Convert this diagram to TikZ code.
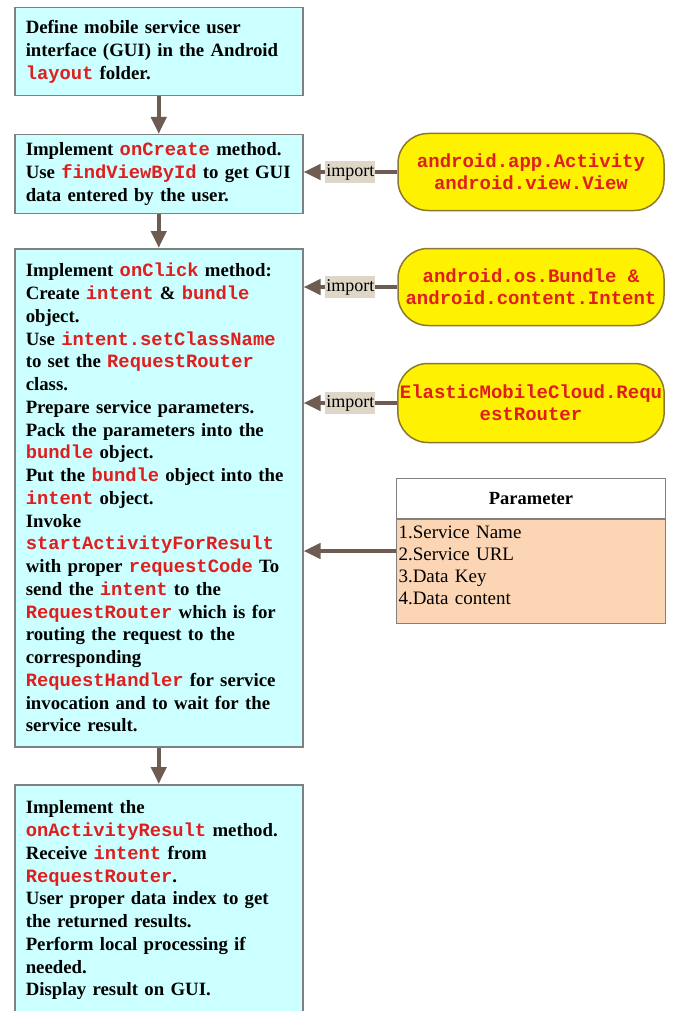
\documentclass[tikz,border=0pt]{standalone}
\usepackage{fontspec}
\setmainfont{Liberation Serif}
\setmonofont{Liberation Mono}
\usetikzlibrary{arrows.meta}
\definecolor{boxblue}{RGB}{204,255,255}
\definecolor{boxedge}{RGB}{128,128,128}
\definecolor{codered}{RGB}{225,30,30}
\definecolor{arrowbrown}{RGB}{110,92,82}
\definecolor{pkgedge}{RGB}{140,120,50}
\definecolor{tagtan}{RGB}{222,214,198}
\definecolor{paramfill}{RGB}{252,213,180}
\newcommand{\code}[1]{{\color{codered}\ttfamily\bfseries #1}}

\begin{document}
\begin{tikzpicture}[x=1pt, y=-1pt,
	stepbox/.style={draw=boxedge, line width=1.5pt, fill=boxblue, anchor=north west, text width=266pt, inner xsep=11pt, inner ysep=8pt, align=left, font=\fontsize{18.8}{22.75}\selectfont\bfseries},
	pkgbox/.style={draw=pkgedge, line width=1.5pt, fill=yellow, rounded corners=30pt, minimum width=266pt, minimum height=77pt, inner xsep=2pt, align=center, text=codered, font=\fontsize{19}{22}\selectfont\ttfamily\bfseries},
	flow/.style={draw=arrowbrown, line width=4.5pt, -{Triangle[length=17pt,width=15pt]}},
	tag/.style={fill=tagtan, inner xsep=1pt, inner ysep=3pt, font=\fontsize{18}{20}\selectfont}]
		\path[use as bounding box, fill=white] (0,0) rectangle (676,1011); % Sidan
		
		\node[stepbox, minimum height=88pt] (s1) at (14,7) {Define mobile service user\\interface (GUI) in the Android\\\code{layout} folder.};
		\node[stepbox, minimum height=77pt] (s2) at (14,134) {Implement \code{onCreate} method.\\Use \code{findViewById} to get GUI\\data entered by the user.};
		\node[stepbox, minimum height=498pt] (s3) at (14,248) {Implement \code{onClick} method:\\
			Create \code{intent} \& \code{bundle}\\
			object.\\
			Use \code{intent.setClassName}\\
			to set the \code{RequestRouter}\\
			class.\\
			Prepare service parameters.\\
			Pack the parameters into the\\
			\code{bundle} object.\\
			Put the \code{bundle} object into the\\
			\code{intent} object.\\
			Invoke\\
			\code{startActivityForResult}\\
			with proper \code{requestCode} To\\
			send the \code{intent} to the\\
			\code{RequestRouter} which is for\\
			routing the request to the\\
			corresponding\\
			\code{RequestHandler} for service\\
			invocation and to wait for the\\
			service result.};
		\node[stepbox, inner ysep=16pt, text depth=220pt] (s4) at (14,784) {Implement the\\
			\code{onActivityResult} method.\\
			Receive \code{intent} from\\
			\code{RequestRouter}.\\
			User proper data index to get\\
			the returned results.\\
			Perform local processing if\\
			needed.\\
			Display result on GUI.}; % Nedre rutan, skuren av sidan
		
		\draw[flow] (s1.south) -- (s2.north);
		\draw[flow] (s2.south) -- (s3.north);
		\draw[flow] (s3.south) -- (s4.north);
		
		\node[pkgbox] (pkg1) at (531,172) {android.app.Activity\\android.view.View};
		\node[pkgbox] (pkg2) at (531,287) {android.os.Bundle \&\\android.content.Intent};
		\node[pkgbox, minimum height=79pt] (pkg3) at (531,403) {ElasticMobileCloud.Requ\\estRouter};
		
		\draw[flow] (pkg1.west) -- node[tag] (imp1) {import} (pkg1.west -| s2.east);
		\draw[flow] (pkg2.west) -- node[tag] (imp2) {import} (pkg2.west -| s3.east);
		\draw[flow] (pkg3.west) -- node[tag] (imp3) {import} (pkg3.west -| s3.east);
		
		\node[draw=boxedge, line width=1pt, fill=white, anchor=north west, minimum width=269pt, minimum height=40pt, font=\fontsize{18.5}{20}\selectfont\bfseries] (phead) at (396,478) {Parameter};
		\node[draw=boxedge, line width=1pt, fill=paramfill, anchor=north west, text width=265pt, inner xsep=2pt, inner ysep=6pt, text depth=79pt, align=left, font=\fontsize{19}{22}\selectfont] (pbody) at (phead.south west) {1.Service Name\\2.Service URL\\3.Data Key\\4.Data content};
		
		\coordinate (pin) at ([yshift=-32pt]pbody.north west); % Pilens start
		\draw[flow] (pin) -- (pin -| s3.east);
	\end{tikzpicture}
\end{document}
